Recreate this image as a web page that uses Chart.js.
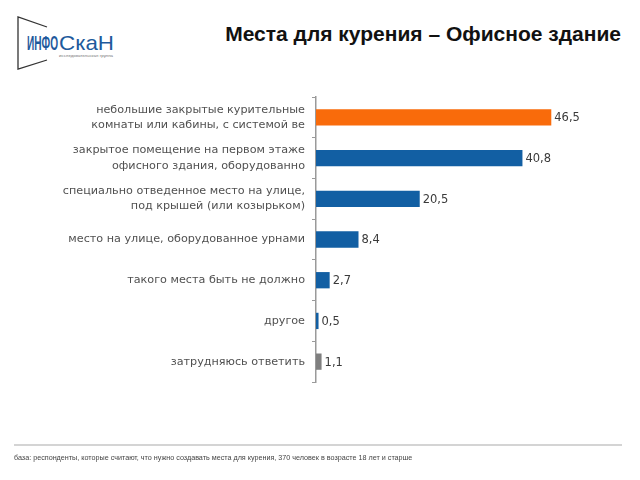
<!DOCTYPE html>
<html>
<head>
<meta charset="utf-8">
<script src="https://cdn.jsdelivr.net/npm/chart.js@4"></script>
<style>
  html, body { margin: 0; padding: 0; background: #fff; }
  #wrap { position: relative; width: 640px; height: 480px; overflow: hidden; }
  #c { position: absolute; left: 0; top: 0; }
  #title { position: absolute; right: 19px; top: 22px; font-family: "Liberation Sans", Arial, sans-serif; font-weight: bold; font-size: 21px; color: #111; white-space: nowrap; }
  #rule { position: absolute; left: 14px; top: 444px; width: 608px; height: 2px; background: #d4d4d4; }
  #foot { position: absolute; left: 14px; top: 453px; font-family: "Liberation Sans", Arial, sans-serif; font-size: 7.2px; color: #444; white-space: nowrap; }
  #logo { position: absolute; left: 0; top: 0; }
</style>
</head>
<body>
<div id="wrap">
  <svg id="logo" width="130" height="80">
    <polyline points="47,27 18,17 18,69 47,60" fill="none" stroke="#333" stroke-width="1.3"/>
    <text x="27" y="50" font-family="Liberation Sans Narrow, Liberation Sans, sans-serif" font-weight="bold" font-size="20" fill="#1e5a9c" textLength="31" lengthAdjust="spacingAndGlyphs">ИНФО</text>
    <text x="59" y="50" font-family="Liberation Sans, sans-serif" font-size="21" fill="#1e5a9c" textLength="55" lengthAdjust="spacingAndGlyphs">СкаН</text>
    <text x="59" y="57" font-family="Liberation Sans, sans-serif" font-size="4" fill="#777" textLength="54" lengthAdjust="spacingAndGlyphs">исследовательская группа</text>
  </svg>
  <div id="title">Места для курения – Офисное здание</div>
  <canvas id="c" width="640" height="480"></canvas>
  <div id="rule"></div>
  <div id="foot">база: респонденты, которые считают, что нужно создавать места для курения, 370 человек в возрасте 18 лет и старше</div>
</div>
<script>
const categories = [
  ["небольшие закрытые курительные", "комнаты или кабины, с системой ве"],
  ["закрытое помещение на первом этаже", "офисного здания, оборудованно"],
  ["специально отведенное место на улице,", "под крышей (или козырьком)"],
  "место на улице, оборудованное урнами",
  "такого места быть не должно",
  "другое",
  "затрудняюсь ответить"
];
const values = [46.5, 40.8, 20.5, 8.4, 2.7, 0.5, 1.1];
const valueLabels = ["46,5", "40,8", "20,5", "8,4", "2,7", "0,5", "1,1"];
const barColors = ["#f96b0b", "#125fa3", "#125fa3", "#125fa3", "#125fa3", "#125fa3", "#7f7f7f"];

const valuePlugin = {
  id: 'valueLabels',
  afterDatasetsDraw(chart) {
    const ctx = chart.ctx;
    const meta = chart.getDatasetMeta(0);
    ctx.save();
    ctx.font = '11.5px "DejaVu Sans", sans-serif';
    ctx.fillStyle = '#3a3a3a';
    ctx.textAlign = 'left';
    ctx.textBaseline = 'middle';
    meta.data.forEach((bar, i) => {
      ctx.fillText(valueLabels[i], bar.x + 3, bar.y + 1);
    });
    ctx.restore();
  }
};

new Chart(document.getElementById('c'), {
  type: 'bar',
  data: {
    labels: categories,
    datasets: [{
      data: values,
      backgroundColor: barColors,
      borderWidth: 0,
      categoryPercentage: 0.8,
      barPercentage: 0.5
    }]
  },
  options: {
    indexAxis: 'y',
    responsive: false,
    animation: false,
    events: [],
    layout: { padding: { left: 0, right: 71, top: 97, bottom: 98 } },
    plugins: { legend: { display: false }, tooltip: { enabled: false } },
    scales: {
      x: { display: false, min: 0, max: 50 },
      y: {
        afterFit(scale) { scale.width = 316; },
        border: { display: true, color: '#9a9a9a', width: 1.5 },
        grid: { display: true, drawOnChartArea: false, drawTicks: true, tickLength: 4, color: '#9a9a9a', offset: true },
        ticks: {
          color: '#505050',
          padding: 7,
          font: { family: '"DejaVu Sans", sans-serif', size: 11.2, lineHeight: 1.35 }
        }
      }
    }
  },
  plugins: [valuePlugin]
});
</script>
</body>
</html>
